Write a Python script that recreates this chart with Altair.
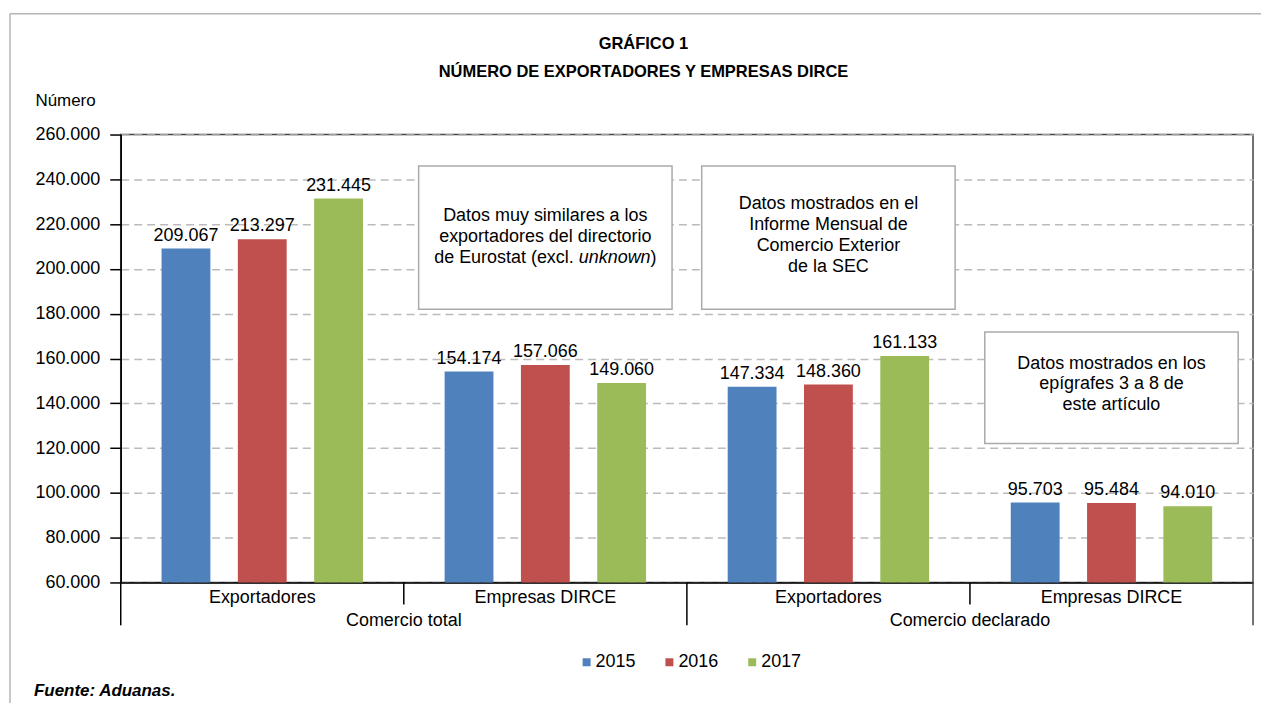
import altair as alt
import pandas as pd

# ---------------- data ----------------
comercio = ["Comercio total", "Comercio total", "Comercio declarado", "Comercio declarado"]
tipo = ["Exportadores", "Empresas DIRCE", "Exportadores", "Empresas DIRCE"]
years = ["2015", "2016", "2017"]
v2015 = [209067, 154174, 147334, 95703]
v2016 = [213297, 157066, 148360, 95484]
v2017 = [231445, 149060, 161133, 94010]
colors = ["#4F81BD", "#C0504D", "#9BBB59"]

y_ticks = list(range(60000, 260001, 20000))

title_lines = ["GRÁFICO 1", "NÚMERO DE EXPORTADORES Y EMPRESAS DIRCE"]
y_title = "Número"
source = "Fuente: Aduanas."

# annotation boxes: which group they sit over, box top / bottom / text centre in data units
note_group_idx = [1, 2, 3]
note_top = [246000, 246000, 171800]
note_bottom = [182000, 182000, 122000]
note_mid = [214300, 215000, 148400]
note_lines = [
    ["Datos muy similares a los", "exportadores del directorio"],
    ["Datos mostrados en el", "Informe Mensual de", "Comercio Exterior", "de la SEC"],
    ["Datos mostrados en los", "epígrafes 3 a 8 de", "este artículo"],
]
note_total_lines = [3, 4, 3]
note1_line3 = ["de Eurostat (excl.", "unknown", ")"]

# ---------------- tables ----------------
groups = [f"{c}|{t}" for c, t in zip(comercio, tipo)]
rows = []
for i, g in enumerate(groups):
    for yr, vals in zip(years, [v2015, v2016, v2017]):
        rows.append({"grupo": g, "year": yr, "valor": vals[i],
                     "label": f"{vals[i]:,}".replace(",", ".")})
df = pd.DataFrame(rows)

notes = pd.DataFrame({
    "grupo": [groups[i] for i in note_group_idx],
    "valor": note_top,
    "valor2": note_bottom,
    "mid": note_mid,
    "txt": ["\n".join(l) for l in note_lines],
})

level2 = pd.DataFrame({"grupo": [groups[1], groups[3]],
                       "label": ["Comercio total", "Comercio declarado"]})

# ---------------- layout ----------------
W, H = 1135, 449
FONT = "Liberation Sans"
FS = 18
LH = 21
SPACE = 5  # width of a space at FS

x_scale = alt.Scale(domain=groups, paddingInner=0, paddingOuter=0)
y_scale = alt.Scale(domain=[60000, 260000], zero=False, nice=False)

x_axis = alt.Axis(title=None, labelExpr="split(datum.value, '|')[1]", ticks=False,
                  labelAngle=0, labelFontSize=FS, labelColor="black", labelPadding=6,
                  domainColor="black", domainWidth=1.5, grid=False)
y_axis = alt.Axis(values=y_ticks,
                  labelExpr="replace(format(datum.value, ','), ',', '.')",
                  title=y_title, titleAngle=0, titleAlign="left", titleBaseline="middle",
                  titleX=-86, titleY=-34, titleFontSize=17, titleFontWeight="normal",
                  titleColor="black",
                  tickSize=11, tickColor="black", tickWidth=1.5,
                  domainColor="black", domainWidth=1.5,
                  grid=True, gridDash=[8, 5], gridColor="#BBBBBB", gridWidth=1.5,
                  labelFontSize=FS, labelPadding=10, labelColor="black")

xg = alt.X("grupo:N", scale=x_scale, sort=groups, axis=x_axis)
xo = alt.XOffset("year:N", scale=alt.Scale(domain=years, paddingInner=0.36, paddingOuter=0.535))
yv = alt.Y("valor:Q", scale=y_scale, axis=y_axis)
ym = alt.Y("mid:Q", scale=y_scale, axis=y_axis)

color = alt.Color("year:N", scale=alt.Scale(domain=years, range=colors),
                  legend=alt.Legend(title=None, orient="none", legendX=458, legendY=520,
                                    direction="horizontal", symbolType="square",
                                    symbolSize=64, symbolStrokeWidth=0,
                                    labelFontSize=FS, labelOffset=0, columnPadding=24,
                                    padding=0, labelColor="black"))

bars = alt.Chart(df).mark_bar().encode(x=xg, xOffset=xo, y=yv, y2=alt.datum(60000), color=color)

values = alt.Chart(df).mark_text(baseline="alphabetic", dy=-8, fontSize=FS, color="black").encode(
    x=xg, xOffset=xo, y=yv, text="label:N")

boxes = alt.Chart(notes).mark_bar(width=254, fill="white", stroke="#AAAAAA", strokeWidth=1.5).encode(
    x=xg, y=yv, y2="valor2:Q")

# text inside boxes (first line sits at y; shift the block so it is centred)
box_texts = []
for i in range(len(notes)):
    shift = -(note_total_lines[i] - 1) * LH / 2
    box_texts.append(
        alt.Chart(notes.iloc[[i]]).mark_text(
            fontSize=FS, lineHeight=LH, lineBreak="\n", baseline="middle",
            align="center", color="black", dy=shift).encode(x=xg, y=ym, text="txt:N"))

note1 = notes.iloc[[0]]
l3dy = LH
n1a = alt.Chart(note1).mark_text(fontSize=FS, baseline="middle", align="right", dx=33.5 - SPACE, dy=l3dy,
                                 color="black", text=note1_line3[0]).encode(x=xg, y=ym)
n1b = alt.Chart(note1).mark_text(fontSize=FS, baseline="middle", align="left", dx=33.5, dy=l3dy,
                                 fontStyle="italic", color="black", text=note1_line3[1]).encode(x=xg, y=ym)
n1c = alt.Chart(note1).mark_text(fontSize=FS, baseline="middle", align="left", dx=105.5, dy=l3dy,
                                 color="black", text=note1_line3[2]).encode(x=xg, y=ym)

lvl2 = alt.Chart(level2).mark_text(fontSize=FS, baseline="middle", align="center", color="black").encode(
    x=alt.X("grupo:N", scale=x_scale, sort=groups, axis=x_axis, bandPosition=0),
    y=alt.value(H + 39), text="label:N")

sep_df = pd.DataFrame({"grupo": groups, "kind": ["long", "short", "long", "short"]})
sep_long = alt.Chart(sep_df).transform_filter("datum.kind == 'long'").mark_rule(
    color="black", strokeWidth=1.5).encode(
    x=alt.X("grupo:N", scale=x_scale, sort=groups, axis=x_axis, bandPosition=0),
    y=alt.value(H), y2=alt.value(H + 43))
sep_short = alt.Chart(sep_df).transform_filter("datum.kind == 'short'").mark_rule(
    color="black", strokeWidth=1.5).encode(
    x=alt.X("grupo:N", scale=x_scale, sort=groups, axis=x_axis, bandPosition=0),
    y=alt.value(H), y2=alt.value(H + 22))
sep_end = alt.Chart(sep_df.iloc[[3]]).mark_rule(color="#444444", strokeWidth=1.5).encode(
    x=alt.X("grupo:N", scale=x_scale, sort=groups, axis=x_axis, bandPosition=1),
    y=alt.value(H), y2=alt.value(H + 43))

title_df = pd.DataFrame({"t": title_lines})
t1 = alt.Chart(title_df.iloc[[0]]).mark_text(fontSize=16.5, fontWeight="bold", align="center",
                                            baseline="middle", color="black").encode(
    x=alt.value(524), y=alt.value(-91), text="t:N")
t2 = alt.Chart(title_df.iloc[[1]]).mark_text(fontSize=16.5, fontWeight="bold", align="center",
                                            baseline="middle", color="black").encode(
    x=alt.value(524), y=alt.value(-63), text="t:N")

src = alt.Chart(pd.DataFrame({"t": [source]})).mark_text(
    fontSize=17, fontWeight="bold", fontStyle="italic", align="left", baseline="middle",
    color="black").encode(x=alt.value(-87), y=alt.value(558), text="t:N")

frame_l = alt.Chart(pd.DataFrame({"a": [0]})).mark_rule(color="#B5B5B5", strokeWidth=1.5).encode(
    x=alt.value(-111), y=alt.value(-121), y2=alt.value(H + 140))
frame_t = alt.Chart(pd.DataFrame({"a": [0]})).mark_rule(color="#B5B5B5", strokeWidth=1.5).encode(
    x=alt.value(-111), x2=alt.value(W + 30), y=alt.value(-121))

chart = alt.layer(
    frame_l, frame_t, bars, values, boxes, *box_texts, n1a, n1b, n1c,
    lvl2, sep_long, sep_short, sep_end, t1, t2, src
).properties(
    width=W, height=H,
    autosize=alt.AutoSizeParams(type="none"),
    padding={"left": 113, "top": 126, "right": 8, "bottom": 120},
).configure(font=FONT).configure_view(stroke="#444444", strokeWidth=1.5)

chart.save("out.html", embed_options={"renderer": "svg", "actions": False})
